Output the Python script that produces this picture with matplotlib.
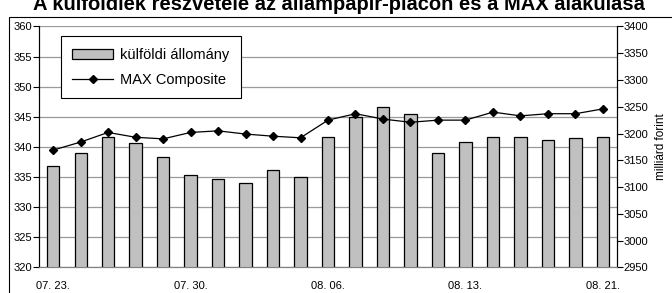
import matplotlib.pyplot as plt
from matplotlib.patches import Rectangle

plt.rcParams['font.family'] = ['Liberation Sans', 'DejaVu Sans']

# adatok
napok = ['07. 23.', '07. 24.', '07. 25.', '07. 26.', '07. 27.', '07. 30.', '07. 31.',
         '08. 01.', '08. 02.', '08. 03.', '08. 06.', '08. 07.', '08. 08.', '08. 09.',
         '08. 10.', '08. 13.', '08. 14.', '08. 15.', '08. 16.', '08. 17.', '08. 21.']
kulfoldi = [336.9, 339.0, 341.7, 340.6, 338.4, 335.3, 334.7, 334.0, 336.1, 335.0, 341.7,
            345.0, 346.7, 345.5, 339.0, 340.8, 341.7, 341.7, 341.1, 341.4, 341.7]
max_comp = [3169, 3184, 3202, 3193, 3190, 3202, 3205, 3199, 3195, 3192, 3225,
            3237, 3227, 3221, 3225, 3225, 3240, 3233, 3237, 3237, 3246]
cimke_idx = [0, 5, 10, 15, 20]

fig = plt.figure(figsize=(6.72, 2.93), dpi=100)
ax = fig.add_axes([0.0585, 0.0877, 0.8592, 0.8219])
ax2 = ax.twinx()

x = list(range(len(napok)))
ax.bar(x, kulfoldi, width=0.44, color='#C0C0C0', edgecolor='black', linewidth=0.9,
       label='külföldi állomány', zorder=3)
ax2.plot(x, max_comp, color='black', linewidth=0.9, marker='D', markersize=4.5,
         label='MAX Composite', zorder=4)

ax.set_xlim(-0.5, len(napok) - 0.5)
ax.set_ylim(320, 360)
ax.set_yticks(range(320, 361, 5))
ax2.set_ylim(2950, 3400)
ax2.set_yticks(range(2950, 3401, 50))
ax.set_xticks(cimke_idx)
ax.set_xticklabels([napok[i] for i in cimke_idx])

ax.grid(axis='y', color='#999999', linewidth=0.9, zorder=0)
ax.set_axisbelow(True)
ax.tick_params(axis='x', length=0, labelsize=8, pad=10)
ax.tick_params(axis='y', length=4, width=0.8, labelsize=8, pad=1)
ax2.tick_params(axis='y', length=4, width=0.8, labelsize=8, pad=1)
for s in ['top']:
    ax.spines[s].set_visible(False)
    ax2.spines[s].set_visible(False)
ax.spines['bottom'].set_color('#808080')
ax2.spines['bottom'].set_color('#808080')
ax2.set_ylabel('milliárd forint', fontsize=8.5, labelpad=5)

# jelmagyarázat
h1, l1 = ax.get_legend_handles_labels()
h2, l2 = ax2.get_legend_handles_labels()
leg = ax2.legend(h1 + h2, l1 + l2, loc='upper left', bbox_to_anchor=(0.037, 0.96),
                 borderaxespad=0, fontsize=10.5, frameon=True, fancybox=False,
                 edgecolor='black', framealpha=1, handlelength=2.8, handletextpad=0.5,
                 borderpad=0.8, labelspacing=0.75)
leg.get_frame().set_linewidth(0.8)

# keret és cím
fig.patches.append(Rectangle((9 / 672, -0.05), 1.0, 1 - 17 / 293 + 0.05,
                             transform=fig.transFigure, fill=False,
                             edgecolor='black', linewidth=0.8))
fig.text(0.505, 1 - 10 / 293, 'A külföldiek részvétele az állampapír-piacon és a MAX alakulása',
         ha='center', va='baseline', fontsize=14.5, fontweight='bold')

fig.savefig('out.png', dpi=100)
